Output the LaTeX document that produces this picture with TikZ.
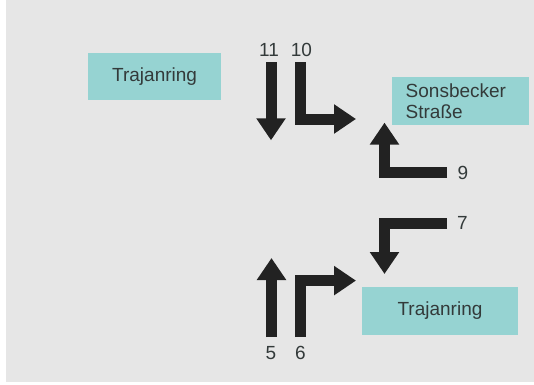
\documentclass[tikz,border=0pt]{standalone}
\usepackage{fontspec}
\setmainfont{Liberation Sans}
\usetikzlibrary{arrows.meta}
\definecolor{bggray}{HTML}{E6E6E6}
\definecolor{boxteal}{HTML}{96D3D2}
\definecolor{txtgray}{HTML}{333A3A}
\definecolor{arrowblack}{HTML}{222222}
\tikzset{
  roadbox/.style={fill=boxteal, draw=none, inner sep=0pt, text=txtgray, font=\fontsize{19}{21}\selectfont},
  lane/.style={draw=arrowblack, line width=11pt, line cap=butt, line join=miter,
    -{Triangle[width=28pt,length=22pt]}},
  lanenum/.style={text=txtgray, font=\fontsize{19}{21}\selectfont, inner sep=0pt}
}
\begin{document}
\begin{tikzpicture}[x=1pt,y=-1pt]
\useasboundingbox (0,0) rectangle (534,384);
\fill[bggray] (6,0) rectangle (534,382);
% road boxes
\node[roadbox, minimum width=133.5pt, minimum height=47.7pt] (trajtop) at (154.6,76.6) {Trajanring};
\node[roadbox, minimum width=137pt, minimum height=48pt] (sons) at (460.2,101) {};
\node[text=txtgray, font=\fontsize{19}{20.5}\selectfont, align=left, inner sep=0pt, anchor=west] (sonstext) at (405.5,101) {Sonsbecker\\Straße};
\node[roadbox, minimum width=156.7pt, minimum height=47.8pt] (trajbot) at (440,311) {Trajanring};
% lane coordinates
\coordinate (a11s) at (271,62);   \coordinate (a11e) at (271,140.3);
\coordinate (a10s) at (300,62);   \coordinate (a10c) at (300,119);  \coordinate (a10e) at (356,119);
\coordinate (a9s)  at (447,172.5); \coordinate (a9c) at (384.5,172.5); \coordinate (a9e) at (384.5,122.6);
\coordinate (a7s)  at (447,223);  \coordinate (a7c) at (384.5,223); \coordinate (a7e) at (384.5,274);
\coordinate (a5s)  at (271.5,337); \coordinate (a5e) at (271.5,258);
\coordinate (a6s)  at (300,337);  \coordinate (a6c) at (300,280.6); \coordinate (a6e) at (356,280.6);
% lane arrows
\draw[lane] (a11s) -- (a11e);
\draw[lane] (a10s) -- (a10c) -- (a10e);
\draw[lane] (a9s) -- (a9c) -- (a9e);
\draw[lane] (a7s) -- (a7c) -- (a7e);
\draw[lane] (a5s) -- (a5e);
\draw[lane] (a6s) -- (a6c) -- (a6e);
% lane numbers
\node[lanenum] (n11) at (269,50.4) {11};
\node[lanenum] (n10) at (301.4,50.4) {10};
\node[lanenum] (n9) at (463,172.7) {9};
\node[lanenum] (n7) at (462.5,223) {7};
\node[lanenum] (n5) at (270.8,353) {5};
\node[lanenum] (n6) at (300.4,353) {6};
\end{tikzpicture}
\end{document}
